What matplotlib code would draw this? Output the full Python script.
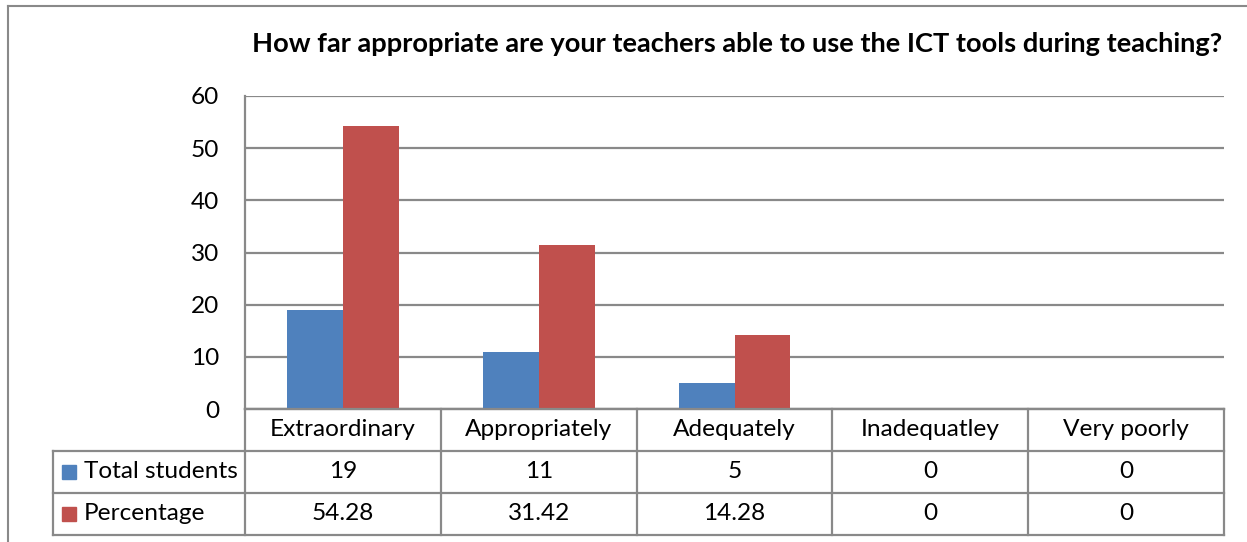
import numpy as np
import matplotlib
matplotlib.use('Agg')
import matplotlib.pyplot as plt
from matplotlib.lines import Line2D
from matplotlib.patches import Rectangle

categories = ['Extraordinary', 'Appropriately', 'Adequately', 'Inadequatley', 'Very poorly']
series_names = ['Total students', 'Percentage']
total_students = [19, 11, 5, 0, 0]
percentage = [54.28, 31.42, 14.28, 0, 0]
table_text = [['19', '11', '5', '0', '0'],
              ['54.28', '31.42', '14.28', '0', '0']]
y_ticks = [0, 10, 20, 30, 40, 50, 60]
title = 'How far appropriate are your teachers able to use the ICT tools during teaching?'

BLUE = '#4F81BD'
RED = '#C0504D'
GRID = '#898989'
FONT = ['Lato', 'DejaVu Sans']
FS = 17.6

plt.rcParams['font.family'] = FONT

W, H = 1247, 542
fig = plt.figure(figsize=(W / 100, H / 100), dpi=100)


def fx(px):
    return px / W


def fy(py):
    return 1 - py / H


# chart frame (top and left edges visible)
fig.add_artist(Line2D([fx(8), fx(8)], [fy(6), 0], color=GRID, lw=1.5))
fig.add_artist(Line2D([fx(8), 1], [fy(6), fy(6)], color=GRID, lw=1.5))

# plot area
ax = fig.add_axes([fx(245), fy(409), fx(1224) - fx(245), fy(96) - fy(409)])
x = np.arange(len(categories))
bw = 1 / 3.5
ax.bar(x - bw / 2, total_students, bw, color=BLUE, zorder=3)
ax.bar(x + bw / 2, percentage, bw, color=RED, zorder=3)
ax.set_xlim(-0.5, len(categories) - 0.5)
ax.set_ylim(0, 60)
ax.set_yticks(y_ticks)
ax.set_yticklabels([str(t) for t in y_ticks], fontsize=FS)
ax.tick_params(axis='y', length=0, pad=18.5)
ax.set_xticks([])
ax.grid(axis='y', color=GRID, lw=1.6, zorder=0)
for s in ['top', 'right']:
    ax.spines[s].set_visible(False)
ax.spines['left'].set_color(GRID)
ax.spines['left'].set_linewidth(1.6)
ax.spines['bottom'].set_color(GRID)
ax.spines['bottom'].set_linewidth(1.6)

fig.text(fx(737), fy(44), title, ha='center', va='center',
         fontsize=19.6, fontweight='bold')

# data table below the plot
tab = fig.add_axes([fx(53), fy(535), fx(1224) - fx(53), fy(409) - fy(535)])
lab_w = 192 / ((1224 - 245) / 5)
x0 = -0.5 - lab_w
tab.set_xlim(x0, len(categories) - 0.5)
tab.set_ylim(3, 0)
tab.axis('off')

lw = 1.6
# vertical lines through all rows for category columns
for i in range(len(categories) + 1):
    tab.plot([i - 0.5, i - 0.5], [0, 3], color=GRID, lw=lw, clip_on=False)
# horizontal lines
tab.plot([-0.5, len(categories) - 0.5], [0, 0], color=GRID, lw=lw, clip_on=False)
for r in [1, 2, 3]:
    tab.plot([x0, len(categories) - 0.5], [r, r], color=GRID, lw=lw, clip_on=False)
tab.plot([x0, x0], [1, 3], color=GRID, lw=lw, clip_on=False)

for i, c in enumerate(categories):
    tab.text(i, 0.5, c, ha='center', va='center', fontsize=FS)
colors = [BLUE, RED]
for r, name in enumerate(series_names):
    yy = r + 1.5
    tab.add_patch(Rectangle((x0 + 0.045, yy - 0.17), 0.07, 0.34 * 0.98,
                            color=colors[r], clip_on=False))
    tab.text(x0 + 0.158, yy, name, ha='left', va='center', fontsize=FS)
    for i, v in enumerate(table_text[r]):
        tab.text(i, yy, v, ha='center', va='center', fontsize=FS)

fig.savefig('out.png', dpi=100)
